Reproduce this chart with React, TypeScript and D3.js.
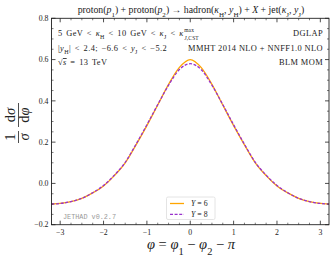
import { useLayoutEffect, useRef, useState } from 'react';
import * as d3 from 'd3';

// azimuthal distance phi and the two rapidity-interval curves
const phi = [-3.2, -3.0, -2.75, -2.5, -2.25, -2.0, -1.75, -1.5, -1.25, -1.0, -0.75, -0.5, -0.25, 0,
  0.25, 0.5, 0.75, 1.0, 1.25, 1.5, 1.75, 2.0, 2.25, 2.5, 2.75, 3.0, 3.2];
const distY6 = [-0.100, -0.097, -0.088, -0.072, -0.046, -0.012, 0.038, 0.100, 0.187, 0.280, 0.380, 0.480, 0.562, 0.600,
  0.562, 0.480, 0.380, 0.280, 0.187, 0.100, 0.038, -0.012, -0.046, -0.072, -0.088, -0.097, -0.100];
const distY8 = [-0.100, -0.097, -0.088, -0.072, -0.045, -0.010, 0.040, 0.102, 0.190, 0.284, 0.382, 0.476, 0.552, 0.580,
  0.552, 0.476, 0.382, 0.284, 0.190, 0.102, 0.040, -0.010, -0.045, -0.072, -0.088, -0.097, -0.100];

const xMajor = [-3, -2, -1, 0, 1, 2, 3];
const yMajor = [-0.2, 0.0, 0.2, 0.4, 0.6, 0.8];
const seriesNames = ['6', '8'];

const W = 335;
const H = 256;
const left = 51.5, right = 329, top = 18.3, bottom = 224.7;
const serif = '"Liberation Serif", "DejaVu Serif", serif';

export default function App() {
  const kinRef = useRef<SVGTextElement>(null);
  const [kinEnd, setKinEnd] = useState(180);

  // place the max / J,CST scripts right after the measured first line
  useLayoutEffect(() => {
    if (kinRef.current) setKinEnd(58 + kinRef.current.getComputedTextLength() + 0.5);
  }, []);

  const x = d3.scaleLinear().domain([-3.2, 3.2]).range([left, right]);
  const y = d3.scaleLinear().domain([-0.2, 0.8]).range([bottom, top]);

  const line = d3.line<number>()
    .x((_, i) => x(phi[i]))
    .y(d => y(d))
    .curve(d3.curveMonotoneX);

  const xMinor = d3.range(-3.0, 3.01, 0.25).filter(v => !xMajor.some(m => Math.abs(m - v) < 1e-6));
  const yMinor = d3.range(-0.2, 0.801, 0.05).filter(v => !yMajor.some(m => Math.abs(m - v) < 1e-6));
  const fmt = (v: number) => d3.format('.1f')(v).replace('-', '\u2212');
  const fmtX = (v: number) => String(v).replace('-', '\u2212');

  const sub = (t: string) => (
    <tspan baselineShift="sub" fontSize="0.72em">{t}</tspan>
  );

  return (
    <div style={{ position: 'absolute', left: 0, top: 0 }}>
      <svg width={W} height={H} style={{ display: 'block', background: '#fff' }} fontFamily={serif}>
        {/* curves */}
        <path d={line(distY6) || ''} fill="none" stroke="#ffa500" strokeWidth={1.3} />
        <path d={line(distY8) || ''} fill="none" stroke="#9932cc" strokeWidth={1.3} strokeDasharray="3,1.6" />

        {/* frame */}
        <rect x={left} y={top} width={right - left} height={bottom - top} fill="none" stroke="#222" strokeWidth={0.9} />

        {/* x ticks, inward on bottom and top */}
        {xMajor.map(v => (
          <g key={'xm' + v}>
            <line x1={x(v)} x2={x(v)} y1={bottom} y2={bottom - 4} stroke="#222" strokeWidth={0.8} />
            <line x1={x(v)} x2={x(v)} y1={top} y2={top + 4} stroke="#222" strokeWidth={0.8} />
            <text x={x(v)} y={bottom + 10} fontSize={7.8} textAnchor="middle" fill="#222">{fmtX(v)}</text>
          </g>
        ))}
        {xMinor.map(v => (
          <g key={'xn' + v}>
            <line x1={x(v)} x2={x(v)} y1={bottom} y2={bottom - 2} stroke="#222" strokeWidth={0.6} />
            <line x1={x(v)} x2={x(v)} y1={top} y2={top + 2} stroke="#222" strokeWidth={0.6} />
          </g>
        ))}

        {/* y ticks, inward on left and right */}
        {yMajor.map(v => (
          <g key={'ym' + v}>
            <line x1={left} x2={left + 4} y1={y(v)} y2={y(v)} stroke="#222" strokeWidth={0.8} />
            <line x1={right} x2={right - 4} y1={y(v)} y2={y(v)} stroke="#222" strokeWidth={0.8} />
            <text x={left - 3} y={y(v) + 2.7} fontSize={7.8} textAnchor="end" fill="#222">{fmt(v)}</text>
          </g>
        ))}
        {yMinor.map(v => (
          <g key={'yn' + v}>
            <line x1={left} x2={left + 2} y1={y(v)} y2={y(v)} stroke="#222" strokeWidth={0.6} />
            <line x1={right} x2={right - 2} y1={y(v)} y2={y(v)} stroke="#222" strokeWidth={0.6} />
          </g>
        ))}

        {/* title */}
        <text x={191} y={13} fontSize={9.8} textAnchor="middle" fill="#222">
          proton(<tspan fontStyle="italic">p</tspan>{sub('1')}) + proton(<tspan fontStyle="italic">p</tspan>{sub('2')}) → hadron(<tspan fontStyle="italic">κ</tspan>{sub('H')}, <tspan fontStyle="italic">y</tspan>{sub('H')}) + <tspan fontStyle="italic">X</tspan> + jet(<tspan fontStyle="italic">κ</tspan>{sub('J')}, <tspan fontStyle="italic">y</tspan>{sub('J')})
        </text>

        {/* left annotations */}
        <g fontSize={8.4} fill="#222" letterSpacing={0.4}>
          <g wordSpacing={1.2}>
            <text ref={kinRef} x={58} y={36}>
              5 GeV &lt; <tspan fontStyle="italic">κ</tspan>{sub('H')} &lt; 10 GeV &lt; <tspan fontStyle="italic">κ</tspan>{sub('J')} &lt; <tspan fontStyle="italic">κ</tspan>
            </text>
            <text x={58} y={51}>
              |<tspan fontStyle="italic">y</tspan>{sub('H')}| &lt; 2.4;  −6.6 &lt; <tspan fontStyle="italic">y</tspan>{sub('J')} &lt; −5.2
            </text>
            <text x={58} y={65}>
              √<tspan textDecoration="overline" fontStyle="italic">s</tspan> = 13 TeV
            </text>
          </g>
          <text x={kinEnd} y={32} fontSize={5.4} letterSpacing={0.2}>max</text>
          <text x={kinEnd} y={39.5} fontSize={5.4} letterSpacing={0.2}><tspan fontStyle="italic">J</tspan>,CST</text>
          <text x={323} y={36} textAnchor="end">DGLAP</text>
          <text x={323} y={51} textAnchor="end">MMHT 2014 NLO + NNFF1.0 NLO</text>
          <text x={323} y={65} textAnchor="end">BLM MOM</text>
        </g>

        {/* watermark */}
        <text x={63} y={219} fontSize={6.8} fill="#999" fontFamily='"Liberation Mono", monospace'>JETHAD v0.2.7</text>

        {/* legend */}
        <rect x={166.5} y={197} width={48.5} height={22.5} rx={1.5} fill="#fff" stroke="#ddd" strokeWidth={0.8} />
        {seriesNames.map((n, i) => (
          <g key={n} transform={`translate(0, ${203.5 + i * 10.8})`}>
            <line x1={170} x2={184} y1={0} y2={0} stroke={i === 0 ? '#ffa500' : '#9932cc'} strokeWidth={1.3}
              strokeDasharray={i === 0 ? undefined : '3,1.6'} />
            <text x={191} y={2.7} fontSize={7.8} fill="#222"><tspan fontStyle="italic">Y</tspan> = {n}</text>
          </g>
        ))}

        {/* x axis label */}
        <text x={191} y={249} fontSize={14.5} textAnchor="middle" fill="#222">
          <tspan fontStyle="italic">φ</tspan> = <tspan fontStyle="italic">φ</tspan>{sub('1')} − <tspan fontStyle="italic">φ</tspan>{sub('2')} − <tspan fontStyle="italic">π</tspan>
        </text>

        {/* y axis label: 1/σ dσ/dφ rotated */}
        <g transform="translate(18,122) rotate(-90)" fill="#222" fontSize={14.5}>
          <text x={-15} y={-3.5} textAnchor="middle">1</text>
          <line x1={-21} x2={-9} y1={0.5} y2={0.5} stroke="#222" strokeWidth={0.8} />
          <text x={-15} y={11} textAnchor="middle" fontStyle="italic">σ</text>
          <text x={7} y={-3.5} textAnchor="middle">d<tspan fontStyle="italic">σ</tspan></text>
          <line x1={-5} x2={19} y1={0.5} y2={0.5} stroke="#222" strokeWidth={0.8} />
          <text x={7} y={11} textAnchor="middle">d<tspan fontStyle="italic">φ</tspan></text>
        </g>
      </svg>
    </div>
  );
}
